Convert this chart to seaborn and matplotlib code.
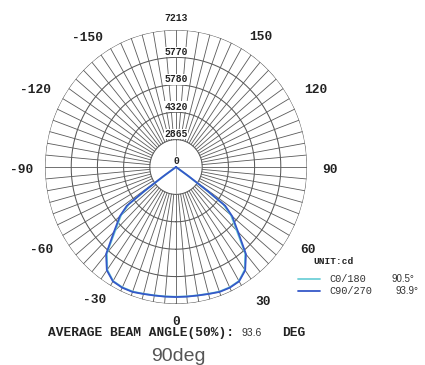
import numpy as np
import matplotlib
matplotlib.use("Agg")
import matplotlib.pyplot as plt
import seaborn as sns
from matplotlib.lines import Line2D

sns.set_style("white")
plt.rcParams["font.family"] = ["Liberation Mono", "DejaVu Sans"]

# photometric data (cd)
angles = [-60, -56, -55, -54, -53, -50, -45, -40, -35, -30, -25, -20, -15, -10, -5,
          0, 5, 10, 15, 20, 25, 30, 35, 40, 45, 50, 53, 54, 55, 56, 60]
c0_180 = [0, 0, 620, 1950, 3250, 3950, 4720, 5920, 6600, 6930, 6990, 6980, 6910, 6860, 6840,
          6830, 6840, 6860, 6910, 6980, 6990, 6930, 6600, 5920, 4720, 3950, 3250, 1950, 620, 0, 0]
c90_270 = [0, 0, 870, 2160, 3390, 4040, 4830, 5990, 6640, 6950, 7010, 7000, 6920, 6870, 6850,
           6845, 6850, 6870, 6920, 7000, 7010, 6950, 6640, 5990, 4830, 4040, 3390, 2160, 870, 0, 0]

r_max = 7213
ring_values = [1443, 2885, 4328, 5770, 7213]
ring_labels = ["2865", "4320", "5780", "5770", "7213"]
angle_ticks = ["0", "30", "60", "90", "120", "150", "-150", "-120", "-90", "-60", "-30"]
spoke_step = 5

# where the angle labels sit, in axes fraction (x, y)
angle_pos = [(0.5, -0.066), (0.832, 0.008), (1.004, 0.197), (1.088, 0.489),
             (1.035, 0.781), (0.825, 0.975), (0.164, 0.971), (-0.038, 0.781),
             (-0.088, 0.489), (-0.012, 0.197), (0.191, 0.015)]

fig = plt.figure(figsize=(4.25, 3.65), dpi=100)
ax = fig.add_axes([0.1059, 0.1671, 0.6165, 0.7507], projection="polar")
ax.set_aspect("auto")
ax.set_theta_zero_location("S")
ax.set_theta_direction(1)
ax.set_ylim(0, r_max)
ax.axis("off")

grid_col = "#5a5a5a"
full = np.radians(np.linspace(0, 360, 361))
for rv in ring_values:
    ax.plot(full, np.full_like(full, rv), color=grid_col, lw=0.75, zorder=1)
for a in range(0, 360, spoke_step):
    if a % 90 == 0:
        ax.plot([np.radians(a)] * 2, [0, ring_values[0]], color="#9a9a9a", lw=0.6, zorder=1)
    ax.plot([np.radians(a)] * 2, [ring_values[0], r_max], color=grid_col, lw=0.6, zorder=1)

# curves
th = np.radians(angles)
sns.lineplot(x=th, y=c0_180, ax=ax, color="#6fd0d8", lw=1.3, sort=False, estimator=None, zorder=3)
sns.lineplot(x=th, y=c90_270, ax=ax, color="#3558c8", lw=1.3, sort=False, estimator=None, zorder=4)
ax.set_xlabel("")
ax.set_ylabel("")

# ring labels along the top
for rv, lab in zip(ring_values, ring_labels):
    off = 0.087 * r_max if rv == r_max else 0.04 * r_max
    ax.text(np.pi, rv + off, lab, ha="center", va="center", fontsize=7, color="#222222",
            fontweight="bold",
            bbox=dict(facecolor="white", edgecolor="none", pad=0.2), zorder=5, clip_on=False)
ax.text(np.pi, 0.045 * r_max, "0", ha="center", va="center", fontsize=7, color="#222222",
        fontweight="bold",
        bbox=dict(facecolor="white", edgecolor="none", pad=0.2), zorder=5)

# angle labels
for lab, (x, y) in zip(angle_ticks, angle_pos):
    ax.text(x, y, lab, transform=ax.transAxes, ha="center", va="center", fontsize=9.3,
            fontweight="bold", color="#222222", clip_on=False)

# legend block
W, H = 425, 365
def fx(px): return px / W
def fy(py): return 1 - py / H

fig.text(fx(313), fy(262), "UNIT:cd", fontsize=6.8, fontweight="bold", color="#222222", va="center")
fig.add_artist(Line2D([fx(298), fx(320)], [fy(279), fy(279)], color="#6fd0d8", lw=1.3))
fig.add_artist(Line2D([fx(298), fx(320)], [fy(291), fy(291)], color="#3558c8", lw=1.3))
fig.text(fx(329), fy(279), "C0/180", fontsize=7.4, color="#333333", va="center")
fig.text(fx(329), fy(291), "C90/270", fontsize=7.4, color="#333333", va="center")
fig.text(fx(414), fy(279), "90.5°", fontsize=7, color="#333333", va="center", ha="right",
         family="Liberation Sans")
fig.text(fx(418), fy(291), "93.9°", fontsize=7, color="#333333", va="center", ha="right",
         family="Liberation Sans")

# footer
fig.text(fx(48), fy(333), "AVERAGE BEAM ANGLE(50%):", fontsize=9.3, fontweight="bold",
         color="#222222", va="center")
fig.text(fx(252), fy(333), "93.6", fontsize=7.5, color="#333333", va="center", ha="center",
         family="Liberation Sans")
fig.text(fx(282), fy(333), "DEG", fontsize=9.3, fontweight="bold", color="#222222", va="center")
fig.text(fx(178), fy(361), "90deg", fontsize=14, color="#555555", ha="center", va="baseline",
         family="Liberation Sans")

fig.savefig("out.png", dpi=100)
